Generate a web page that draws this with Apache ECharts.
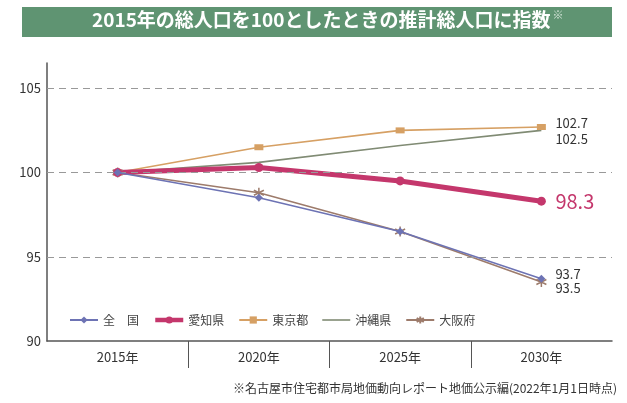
<!DOCTYPE html>
<html><head><meta charset="utf-8">
<script src="https://cdn.jsdelivr.net/npm/echarts@6/dist/echarts.min.js"></script>
<style>html,body{margin:0;padding:0;background:#fff}#c{width:627px;height:403px}</style>
</head><body><div id="c"></div>
<script>
const categories = ['2015年', '2020年', '2025年', '2030年'];
const seriesNames = ['全　国', '愛知県', '東京都', '沖縄県', '大阪府'];
const zenkoku = [100, 98.5, 96.5, 93.7];
const aichi = [100, 100.3, 99.5, 98.3];
const tokyo = [100, 101.5, 102.5, 102.7];
const okinawa = [100, 100.6, 101.6, 102.5];
const osaka = [100, 98.8, 96.5, 93.5];
const yTicks = [95, 100, 105];
const titleText = '2015年の総人口を100としたときの推計総人口に指数';
const noteText = '※名古屋市住宅都市局地価動向レポート地価公示編(2022年1月1日時点)';

const FONT = '"Noto Sans CJK JP", "Noto Sans", sans-serif';
const chart = echarts.init(document.getElementById('c'), null, {renderer: 'canvas'});
const asterisk = 'path://M0,-5L0,5M-4.3,-2.5L4.3,2.5M-4.3,2.5L4.3,-2.5';
const lineIcon = 'path://M0,0L28,0L28,1.6L0,1.6Z';
// category boundaries between bands (indices 1..n-1)
const boundaries = categories.slice(1).map((_, i) => i + 1);

function endLbl(color, size, dy, dist) {
  return {show: true, color: color, fontSize: size, fontFamily: FONT, distance: dist, offset: [0, dy],
    formatter: p => String(p.value)};
}

function legendItem(n) {
  if (n === '沖縄県') return {name: n, icon: lineIcon};
  if (n === '愛知県') return {name: n, lineStyle: {width: 4.5}};
  return n;
}

const option = {
  animation: false,
  textStyle: {fontFamily: FONT},
  graphic: [
    {type: 'rect', left: 22, top: 7, shape: {width: 590, height: 30}, style: {fill: '#5f9472'}, silent: true},
    {type: 'text', left: 92, top: 9, style: {
      text: '{a|' + titleText + '}{b|※}',
      rich: {
        a: {fontSize: 19, fontWeight: 'bold', fill: '#ffffff', fontFamily: FONT},
        b: {fontSize: 11, fill: '#d6e6da', fontFamily: FONT, verticalAlign: 'top', padding: [0, 0, 10, 2]}
      }
    }},
    {type: 'text', right: 10, top: 382, style: {text: noteText, fontSize: 12, fill: '#333', fontFamily: FONT}}
  ],
  grid: {left: 47, right: 15, top: 63, bottom: 62},
  legend: {
    left: 64, top: 309, itemWidth: 28, itemHeight: 9, itemGap: 14,
    textStyle: {fontSize: 12, color: '#444', fontFamily: FONT},
    data: seriesNames.map(legendItem)
  },
  xAxis: [
    {
      type: 'category', data: categories, boundaryGap: true,
      axisLine: {lineStyle: {color: '#555', width: 1.5}},
      axisTick: {show: false},
      axisLabel: {color: '#333', fontSize: 13, margin: 10, fontFamily: FONT}
    },
    {
      type: 'value', min: 0, max: categories.length, position: 'bottom',
      axisLine: {show: false},
      axisLabel: {show: false},
      splitLine: {show: false},
      axisTick: {show: true, length: 27, customValues: boundaries, lineStyle: {color: '#555', width: 1}}
    }
  ],
  yAxis: {
    type: 'value', min: 90, max: 106.5, interval: 5,
    axisLine: {show: true, lineStyle: {color: '#555', width: 1.5}},
    axisTick: {show: false},
    splitLine: {show: false},
    axisLabel: {color: '#333', fontSize: 13, margin: 6, fontFamily: FONT,
      formatter: v => (v % 5 === 0 ? String(v) : '')}
  },
  series: [
    {name: seriesNames[3], type: 'line', data: okinawa, symbol: 'none', showSymbol: false,
      lineStyle: {color: '#808b74', width: 1.6}, itemStyle: {color: '#808b74'}, z: 2,
      endLabel: endLbl('#333', 13, 9, 14),
      markLine: {silent: true, symbol: 'none', label: {show: false},
        lineStyle: {color: '#999', type: [7, 5], width: 1},
        data: yTicks.map(v => ({yAxis: v}))}},
    {name: seriesNames[2], type: 'line', data: tokyo, symbol: 'rect', symbolSize: [9, 6],
      lineStyle: {color: '#d6a064', width: 1.6}, itemStyle: {color: '#d6a064'}, z: 3,
      endLabel: endLbl('#333', 13, -4, 14)},
    {name: seriesNames[4], type: 'line', data: osaka, symbol: asterisk, symbolSize: 10,
      lineStyle: {color: '#9d7b6b', width: 1.6}, itemStyle: {color: '#9d7b6b', borderColor: '#9d7b6b', borderWidth: 1.5}, z: 4,
      endLabel: endLbl('#333', 13, 6, 14)},
    {name: seriesNames[1], type: 'line', data: aichi, symbol: 'circle', symbolSize: 9,
      lineStyle: {color: '#c4376c', width: 5}, itemStyle: {color: '#c4376c'}, z: 4,
      endLabel: endLbl('#c4376c', 20, 0, 14)},
    {name: seriesNames[0], type: 'line', data: zenkoku, symbol: 'diamond', symbolSize: 8,
      lineStyle: {color: '#6d73b4', width: 1.6}, itemStyle: {color: '#6d73b4'}, z: 5,
      endLabel: endLbl('#333', 13, -5, 14)}
  ]
};
chart.setOption(option);
</script></body></html>
